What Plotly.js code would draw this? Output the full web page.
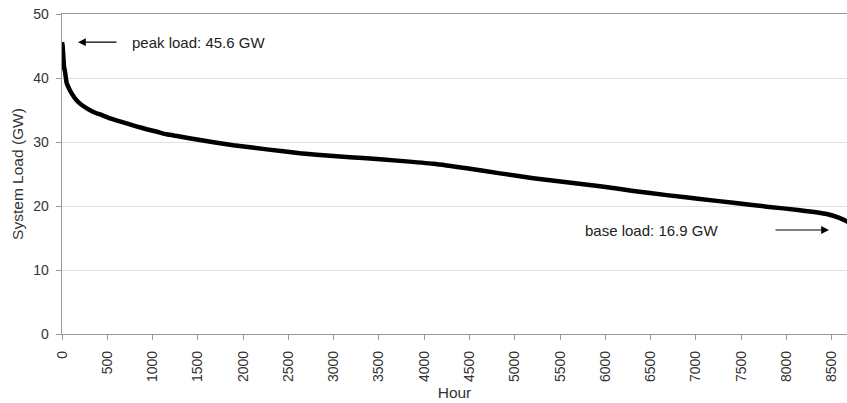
<!DOCTYPE html>
<html>
<head>
<meta charset="utf-8">
<script src="https://cdn.plot.ly/plotly-3.0.1.min.js"></script>
<style>html,body{margin:0;padding:0;background:#fff}#chart{width:847px;height:403px}</style>
</head>
<body>
<div id="chart"></div>
<script>
const hours = [0, 7, 22, 33, 52, 80, 107, 150, 199, 270, 346, 440, 530, 620, 714, 820, 935, 1050, 1156, 1285, 1524, 1892, 2260, 2628, 2997, 3365, 3733, 4101, 4469, 4837, 5205, 5574, 5942, 6310, 6678, 7046, 7414, 7782, 8150, 8445, 8592, 8680, 8760];
const loadGW = [45.6, 45.0, 41.8, 41.0, 39.2, 38.3, 37.6, 36.7, 36.0, 35.3, 34.7, 34.2, 33.7, 33.3, 32.9, 32.45, 32.0, 31.6, 31.2, 30.9, 30.3, 29.5, 28.85, 28.25, 27.8, 27.45, 27.05, 26.6, 25.9, 25.1, 24.35, 23.7, 23.1, 22.35, 21.7, 21.1, 20.5, 19.9, 19.35, 18.75, 18.1, 17.5, 16.9];
const xTicks = [0, 500, 1000, 1500, 2000, 2500, 3000, 3500, 4000, 4500, 5000, 5500, 6000, 6500, 7000, 7500, 8000, 8500];
const yTicks = [0, 10, 20, 30, 40, 50];
const peakLabel = 'peak load: 45.6 GW';
const baseLabel = 'base load: 16.9 GW';

const fam = 'Liberation Sans, Arial, sans-serif';

Plotly.newPlot('chart', [{
  x: hours, y: loadGW, type: 'scatter', mode: 'lines',
  line: {color: '#000', width: 4.5, shape: 'spline', smoothing: 0.5},
  hoverinfo: 'skip'
}], {
  width: 847, height: 403,
  margin: {l: 62, r: 0, t: 14, b: 69},
  paper_bgcolor: '#fff', plot_bgcolor: '#fff',
  showlegend: false,
  font: {family: fam, size: 14, color: '#333'},
  xaxis: {
    range: [0, 8669], tickvals: xTicks, ticktext: xTicks.map(String), tickangle: -90,
    showgrid: false, zeroline: false, showline: true, linecolor: '#999', linewidth: 1.3,
    mirror: true, ticks: 'outside', ticklen: 5, tickcolor: '#999', ticklabelstandoff: 5,
    tickfont: {family: fam, size: 14, color: '#333'},
    title: {text: 'Hour', font: {family: fam, size: 15.5, color: '#333'}, standoff: 6}
  },
  yaxis: {
    range: [0, 50], tickvals: yTicks, showgrid: true, gridcolor: '#e2e2e2', gridwidth: 1,
    zeroline: false, showline: true, linecolor: '#999', linewidth: 1.3,
    ticks: 'outside', ticklen: 5, tickcolor: '#999', ticklabelstandoff: 4,
    tickfont: {family: fam, size: 14, color: '#333'},
    title: {text: 'System Load (GW)', font: {family: fam, size: 15.5, color: '#333'}, standoff: 6}
  },
  annotations: [
    {x: 177, y: 45.6, xref: 'x', yref: 'y', text: '', showarrow: true, arrowhead: 2, arrowsize: 1.3, arrowwidth: 1.2, arrowcolor: '#000', ax: 40, ay: 0},
    {x: 751, y: 45.6, xref: 'x', yref: 'y', text: peakLabel, showarrow: false, xanchor: 'left', yanchor: 'middle', font: {family: fam, size: 15, color: '#222'}},
    {x: 8470, y: 16.25, xref: 'x', yref: 'y', text: '', showarrow: true, arrowhead: 2, arrowsize: 1.3, arrowwidth: 1.2, arrowcolor: '#000', ax: -55, ay: 0},
    {x: 5754, y: 16.25, xref: 'x', yref: 'y', text: baseLabel, showarrow: false, xanchor: 'left', yanchor: 'middle', font: {family: fam, size: 15, color: '#222'}}
  ]
}, {displayModeBar: false, staticPlot: true});
</script>
</body>
</html>
